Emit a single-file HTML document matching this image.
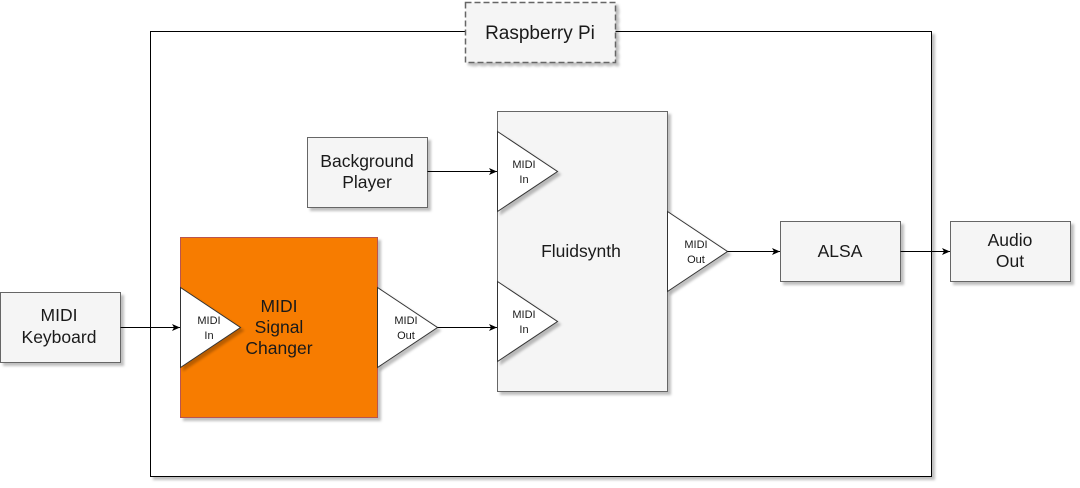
<!DOCTYPE html>
<html><head><meta charset="utf-8"><style>
html,body{margin:0;padding:0;background:#fff;width:1080px;height:488px;overflow:hidden}
text{font-family:"Liberation Sans",Arial,sans-serif;fill:#1a1a1a}
</style></head><body>
<svg width="1080" height="488" viewBox="0 0 1080 488" xmlns="http://www.w3.org/2000/svg">
<defs>
<filter id="sh" x="-10%" y="-10%" width="130%" height="130%"><feDropShadow dx="3" dy="3" stdDeviation="1.2" flood-color="#000" flood-opacity="0.25"/></filter>
<marker id="ar" markerWidth="10" markerHeight="10" refX="9" refY="5" orient="auto" markerUnits="userSpaceOnUse"><path d="M1,1.5 L9,5 L1,8.5 L3,5 Z" fill="#000"/></marker>
</defs>
<rect x="150.5" y="31.5" width="781" height="445" fill="#fff" stroke="#000" filter="url(#sh)"/>
<rect x="465.5" y="2.5" width="150" height="60" fill="#f5f5f5" stroke="#666" stroke-dasharray="6,3" stroke-width="1.5" filter="url(#sh)"/>
<text x="540" y="39" font-size="19" text-anchor="middle">Raspberry Pi</text>

<rect x="307.5" y="137.5" width="120" height="70" fill="#f5f5f5" stroke="#666" filter="url(#sh)"/>
<text x="367" y="167" font-size="17.5" text-anchor="middle">Background</text>
<text x="367" y="188" font-size="17.5" text-anchor="middle">Player</text>

<rect x="497.5" y="111.5" width="170" height="280" fill="#f5f5f5" stroke="#666" filter="url(#sh)"/>
<text x="581" y="257" font-size="17.5" text-anchor="middle">Fluidsynth</text>
<polygon points="497.5,131.5 557.5,171.5 497.5,211.5" fill="#fff" stroke="#333" filter="url(#sh)"/>
<text x="524" y="168" font-size="11" text-anchor="middle">MIDI</text><text x="524" y="183" font-size="11" text-anchor="middle">In</text>
<polygon points="497.5,281.5 557.5,321.5 497.5,361.5" fill="#fff" stroke="#333" filter="url(#sh)"/>
<text x="524" y="318" font-size="11" text-anchor="middle">MIDI</text><text x="524" y="333" font-size="11" text-anchor="middle">In</text>
<polygon points="667.5,211.5 727.5,251.5 667.5,291.5" fill="#fff" stroke="#333" filter="url(#sh)"/>
<text x="696" y="248" font-size="11" text-anchor="middle">MIDI</text><text x="696" y="263" font-size="11" text-anchor="middle">Out</text>

<rect x="780.5" y="221.5" width="120" height="60" fill="#f5f5f5" stroke="#666" filter="url(#sh)"/>
<text x="840" y="257" font-size="17.5" text-anchor="middle">ALSA</text>
<rect x="950.5" y="221.5" width="120" height="60" fill="#f5f5f5" stroke="#666" filter="url(#sh)"/>
<text x="1010" y="246" font-size="17.5" text-anchor="middle">Audio</text>
<text x="1010" y="267" font-size="17.5" text-anchor="middle">Out</text>

<rect x="0.5" y="292.5" width="120" height="70" fill="#f5f5f5" stroke="#666" filter="url(#sh)"/>
<text x="59" y="321" font-size="17.5" text-anchor="middle">MIDI</text>
<text x="59" y="343" font-size="17.5" text-anchor="middle">Keyboard</text>

<rect x="180.5" y="237.5" width="197" height="180" fill="#f77b00" stroke="#b85450" filter="url(#sh)"/>
<text x="279" y="312" font-size="17.5" text-anchor="middle">MIDI</text>
<text x="279" y="333" font-size="17.5" text-anchor="middle">Signal</text>
<text x="279" y="354" font-size="17.5" text-anchor="middle">Changer</text>
<polygon points="180.5,287.5 240.5,327.5 180.5,367.5" fill="#fff" stroke="#333" filter="url(#sh)"/>
<text x="209" y="324" font-size="11" text-anchor="middle">MIDI</text><text x="209" y="339" font-size="11" text-anchor="middle">In</text>
<polygon points="377.5,287.5 437.5,327.5 377.5,367.5" fill="#fff" stroke="#333" filter="url(#sh)"/>
<text x="406" y="324" font-size="11" text-anchor="middle">MIDI</text><text x="406" y="339" font-size="11" text-anchor="middle">Out</text>

<g stroke="#000" stroke-width="1" fill="none">
<line x1="120.5" y1="327.5" x2="180" y2="327.5" marker-end="url(#ar)"/>
<line x1="437.5" y1="327.5" x2="497" y2="327.5" marker-end="url(#ar)"/>
<line x1="427.5" y1="171.5" x2="497" y2="171.5" marker-end="url(#ar)"/>
<line x1="727.5" y1="251.5" x2="780" y2="251.5" marker-end="url(#ar)"/>
<line x1="900.5" y1="251.5" x2="950" y2="251.5" marker-end="url(#ar)"/>
</g>
</svg>
</body></html>
